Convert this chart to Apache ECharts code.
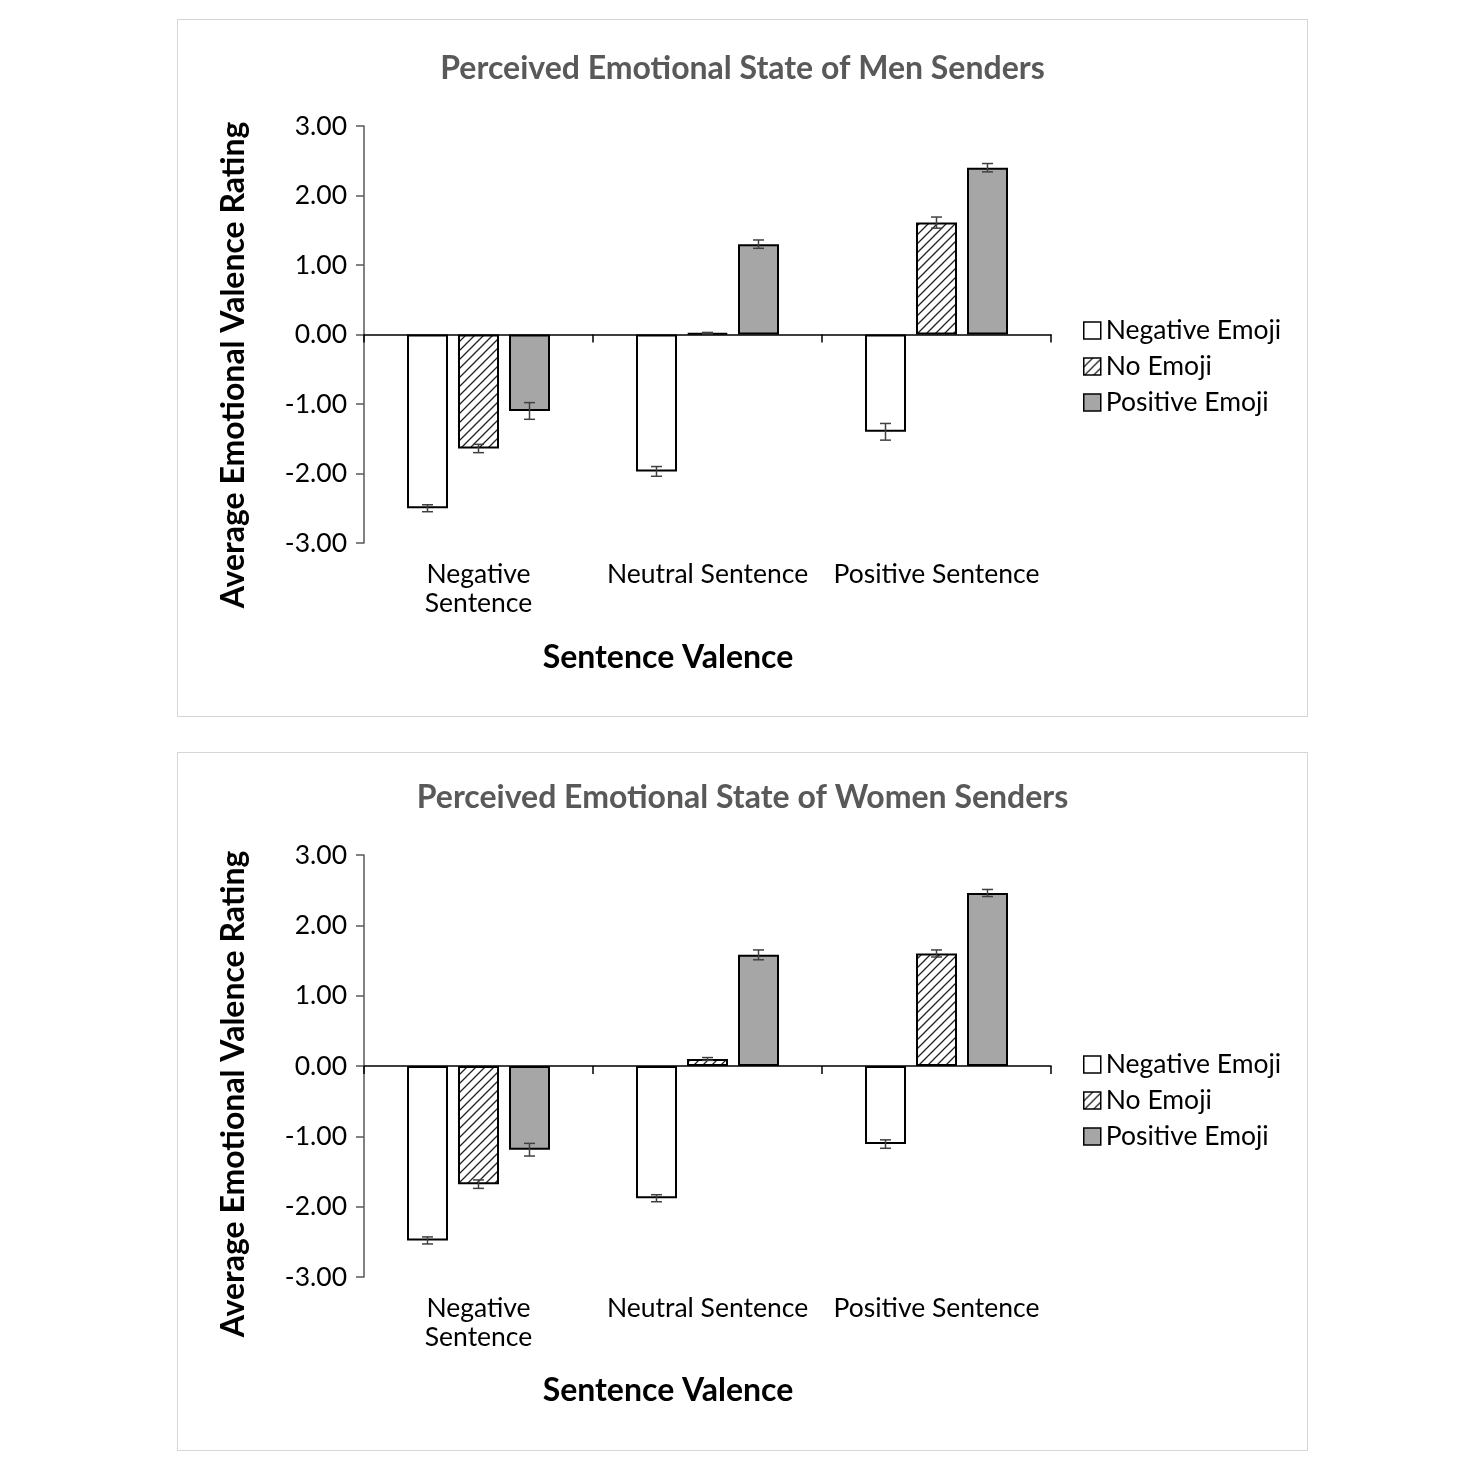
<!DOCTYPE html>
<html>
<head>
<meta charset="utf-8">
<script src="https://cdn.jsdelivr.net/npm/echarts@6/dist/echarts.min.js"></script>
<style>
    body { margin: 0; background: #fff; }
    .box { position: absolute; left: 177px; width: 1131px; box-sizing: border-box; border: 1.5px solid #d6d6d6; background: #fff; }
    #menBox { top: 19px; height: 698px; }
    #womenBox { top: 752px; height: 699px; }
</style>
</head>
<body>
<div class="box" id="menBox"></div>
<div class="box" id="womenBox"></div>
<script>
/*数据*/
var categories = ['Negative\nSentence', 'Neutral Sentence', 'Positive Sentence'];
var seriesNames = ['Negative Emoji', 'No Emoji', 'Positive Emoji'];

// 男性发送者
var menNegEmoji = [-2.50, -1.97, -1.40];
var menNegEmojiErr = [0.05, 0.07, 0.12];
var menNoEmoji = [-1.64, 0.02, 1.61];
var menNoEmojiErr = [0.06, 0.01, 0.08];
var menPosEmoji = [-1.10, 1.30, 2.40];
var menPosEmojiErr = [0.12, 0.06, 0.06];

// 女性发送者
var womenNegEmoji = [-2.48, -1.88, -1.11];
var womenNegEmojiErr = [0.05, 0.05, 0.06];
var womenNoEmoji = [-1.68, 0.10, 1.60];
var womenNoEmojiErr = [0.06, 0.02, 0.05];
var womenPosEmoji = [-1.19, 1.58, 2.46];
var womenPosEmojiErr = [0.09, 0.07, 0.05];

var FONT = 'Lato, "Open Sans", sans-serif';
var BAR_W = 41, BAR_GAP = 10;

/*斜线填充*/
function hatchPattern() {
    var c = document.createElement('canvas');
    c.width = 9; c.height = 9;
    var ctx = c.getContext('2d');
    ctx.fillStyle = '#fff';
    ctx.fillRect(0, 0, 9, 9);
    ctx.strokeStyle = '#222';
    ctx.lineWidth = 1.3;
    ctx.beginPath();
    ctx.moveTo(-1, 10); ctx.lineTo(10, -1);
    ctx.moveTo(-1, 1); ctx.lineTo(1, -1);
    ctx.moveTo(8, 10); ctx.lineTo(10, 8);
    ctx.stroke();
    return { image: c, repeat: 'repeat' };
}
var fills = ['#ffffff', hatchPattern(), '#a6a6a6'];

function errData(vals, errs) {
    var out = [];
    for (var i = 0; i < vals.length; i++) out.push([i, vals[i], errs[i]]);
    return out;
}

function errSeries(idx, vals, errs) {
    var offset = (idx - 1) * (BAR_W + BAR_GAP);
    return {
        type: 'custom',
        xAxisIndex: 0,
        z: 5,
        silent: true,
        encode: { x: 0, y: 1 },
        data: errData(vals, errs),
        renderItem: function (params, api) {
            var x = api.coord([api.value(0), 0])[0] + offset;
            var hi = api.coord([api.value(0), api.value(1) + api.value(2)])[1];
            var lo = api.coord([api.value(0), api.value(1) - api.value(2)])[1];
            var st = { stroke: '#404040', lineWidth: 1.5 };
            return {
                type: 'group',
                children: [
                    { type: 'line', shape: { x1: x, y1: hi, x2: x, y2: lo }, style: st },
                    { type: 'line', shape: { x1: x - 5.5, y1: hi, x2: x + 5.5, y2: hi }, style: st },
                    { type: 'line', shape: { x1: x - 5.5, y1: lo, x2: x + 5.5, y2: lo }, style: st }
                ]
            };
        }
    };
}

/**
 * 生成图表配置
 */
function makeOption(title, gridTop, gridH, legendTop, vals, errs) {
    var series = [];
    for (var i = 0; i < 3; i++) {
        series.push({
            name: seriesNames[i],
            type: 'bar',
            xAxisIndex: 0,
            barWidth: BAR_W,
            barGap: (BAR_GAP / BAR_W * 100) + '%',
            itemStyle: { color: fills[i], borderColor: '#000', borderWidth: 2 },
            data: vals[i]
        });
    }
    for (var j = 0; j < 3; j++) series.push(errSeries(j, vals[j], errs[j]));
    return {
        backgroundColor: '#fff',
        animation: false,
        title: {
            text: title,
            left: 'center',
            top: gridTop - 78,
            textStyle: { fontFamily: FONT, fontWeight: 'bold', fontSize: 32, color: '#595959' }
        },
        legend: {
            data: seriesNames,
            orient: 'vertical',
            left: 900,
            top: legendTop,
            itemWidth: 17,
            itemHeight: 17,
            itemGap: 9,
            icon: 'rect',
            itemStyle: { borderWidth: 1.5, borderColor: '#000' },
            textStyle: { fontFamily: FONT, fontSize: 26.5, lineHeight: 27, color: '#000' }
        },
        grid: { left: 186, top: gridTop, width: 687, height: gridH },
        xAxis: [{
            type: 'category',
            data: categories,
            axisLine: { onZero: true, lineStyle: { color: '#000', width: 1.5 } },
            axisTick: { show: true, length: 8, lineStyle: { color: '#000', width: 1.5 } },
            axisLabel: { show: false }
        }, {
            type: 'category',
            data: categories,
            position: 'bottom',
            axisLine: { show: false, onZero: false },
            axisTick: { show: false },
            axisLabel: { interval: 0, margin: 17, fontFamily: FONT, fontSize: 26.5, lineHeight: 29, color: '#000' }
        }],
        yAxis: {
            type: 'value',
            min: -3,
            max: 3,
            interval: 1,
            splitLine: { show: false },
            axisLine: { show: true, lineStyle: { color: '#595959', width: 1.5 } },
            axisTick: { show: true, length: 8, lineStyle: { color: '#595959', width: 1.5 } },
            axisLabel: {
                margin: 17, fontFamily: FONT, fontSize: 26.5, color: '#000',
                formatter: function (v) { return v.toFixed(2); }
            }
        },
        graphic: [{
            type: 'text',
            x: 56,
            y: gridTop + 239,
            rotation: Math.PI / 2,
            style: {
                text: 'Average Emotional Valence Rating',
                font: 'bold 32px ' + FONT,
                fill: '#000',
                textAlign: 'center',
                textVerticalAlign: 'middle'
            }
        }, {
            type: 'text',
            x: 490,
            y: 638,
            style: {
                text: 'Sentence Valence',
                font: 'bold 32px ' + FONT,
                fill: '#000',
                textAlign: 'center',
                textVerticalAlign: 'middle'
            }
        }],
        series: series
    };
}

var menChart = echarts.init(document.getElementById('menBox'));
menChart.setOption(makeOption('Perceived Emotional State of Men Senders', 106, 417, 292,
    [menNegEmoji, menNoEmoji, menPosEmoji],
    [menNegEmojiErr, menNoEmojiErr, menPosEmojiErr]));

var womenChart = echarts.init(document.getElementById('womenBox'));
womenChart.setOption(makeOption('Perceived Emotional State of Women Senders', 102, 422, 293,
    [womenNegEmoji, womenNoEmoji, womenPosEmoji],
    [womenNegEmojiErr, womenNoEmojiErr, womenPosEmojiErr]));
</script>
</body>
</html>
